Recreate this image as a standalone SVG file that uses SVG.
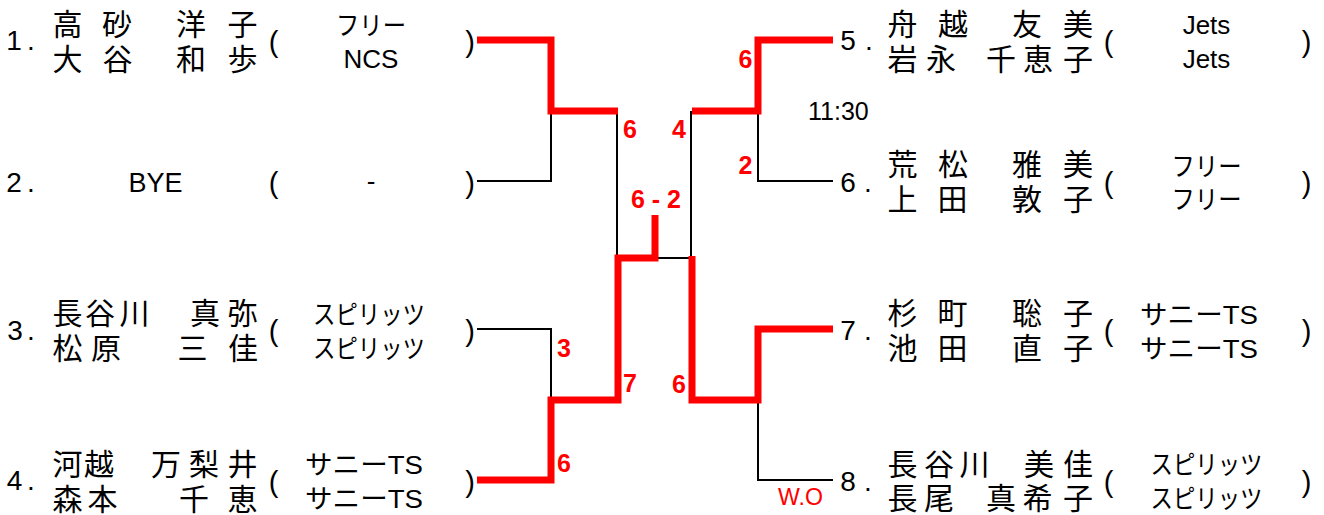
<svg xmlns="http://www.w3.org/2000/svg" width="1324" height="515" viewBox="0 0 1324 515">
<style>
.num{font-family:"Liberation Sans",Arial,sans-serif;font-size:28px;fill:#000;text-anchor:middle}
.nm{font-family:"Noto Sans CJK JP","Noto Sans CJK SC",sans-serif;font-size:30px;fill:#000;text-anchor:middle}
.tm{font-family:"Liberation Sans","Noto Sans CJK JP",sans-serif;font-size:26px;fill:#000;text-anchor:middle}
.par{font-family:"Liberation Sans",Arial,sans-serif;font-size:29px;fill:#000;text-anchor:middle}
.sc{font-family:"Liberation Sans",Arial,sans-serif;font-size:25px;font-weight:bold;fill:#ff0000;text-anchor:middle}
.blk{fill:none;stroke:#000;stroke-width:2}
.red{fill:none;stroke:#ff0000;stroke-width:7}
</style>
<rect width="1324" height="515" fill="#fff"/>

<g id="connectors">
  <path class="blk" d="M477 181 H551 V111"/>
  <path class="blk" d="M477 329 H551 V400"/>
  <path class="blk" d="M617 111 V257"/>
  <path class="blk" d="M655 258 H691 V111"/>
  <path class="blk" d="M833 181 H758 V111"/>
  <path class="blk" d="M833 480 H758 V400"/>
  <path class="red" d="M477 40 H551 V111 H618"/>
  <path class="red" d="M477 480 H551 V400 H618 V258 H655 V215"/>
  <path class="red" d="M692 256 V400 H758 V329 H833"/>
  <path class="red" d="M692 111 H758 V40 H833"/>
</g>

<g id="p1">
  <text class="num" x="14 31" y="50">1.</text>
  <text class="nm" x="67.5 117 154 191 242.5" y="35">高砂　洋子</text>
  <text class="nm" x="67.5 117.5 154 191 242.5" y="70">大谷　和歩</text>
  <text class="par" x="273.5" y="52">(</text>
  <text class="tm" x="371" y="35" textLength="70" lengthAdjust="spacingAndGlyphs">フリー</text>
  <text class="tm" x="371" y="68">NCS</text>
  <text class="par" x="470" y="52">)</text>
</g>

<g id="p2">
  <text class="num" x="14 31" y="192">2.</text>
  <text class="tm" x="155.5" y="192" style="font-size:27px">BYE</text>
  <text class="par" x="273.5" y="193">(</text>
  <text class="tm" x="371" y="190">-</text>
  <text class="par" x="470" y="193">)</text>
</g>

<g id="p3">
  <text class="num" x="15 31" y="340">3.</text>
  <text class="nm" x="67.5 100 134.5 170 205 242.5" y="324">長谷川　真弥</text>
  <text class="nm" x="67.5 106 150 192.5 243" y="359">松原　三佳</text>
  <text class="par" x="273.5" y="341">(</text>
  <text class="tm" x="369" y="324" textLength="112" lengthAdjust="spacingAndGlyphs">スピリッツ</text>
  <text class="tm" x="369" y="358" textLength="112" lengthAdjust="spacingAndGlyphs">スピリッツ</text>
  <text class="par" x="470" y="341">)</text>
</g>

<g id="p4">
  <text class="num" x="14.5 31" y="490">4.</text>
  <text class="nm" x="67.5 99 132 166 204 242.5" y="475">河越　万梨井</text>
  <text class="nm" x="67.5 102.5 148 194 242.5" y="510">森本　千恵</text>
  <text class="par" x="273.5" y="492">(</text>
  <text class="tm" x="364" y="474" textLength="118" lengthAdjust="spacingAndGlyphs">サニーTS</text>
  <text class="tm" x="364" y="508" textLength="118" lengthAdjust="spacingAndGlyphs">サニーTS</text>
  <text class="par" x="470" y="492">)</text>
</g>

<g id="p5">
  <text class="num" x="848 869" y="50">5.</text>
  <text class="nm" x="902.5 953 990 1027 1078" y="35">舟越　友美</text>
  <text class="nm" x="902.5 941 970 1001 1038 1078" y="70">岩永　千恵子</text>
  <text class="par" x="1108.5" y="52">(</text>
  <text class="tm" x="1206.5" y="34">Jets</text>
  <text class="tm" x="1206.5" y="68">Jets</text>
  <text class="par" x="1306.5" y="52">)</text>
</g>

<g id="p6">
  <text class="num" x="848 868" y="192">6.</text>
  <text class="nm" x="902.5 953 990 1027 1078" y="175">荒松　雅美</text>
  <text class="nm" x="902.5 952.5 990 1027 1078" y="210">上田　敦子</text>
  <text class="par" x="1108.5" y="193">(</text>
  <text class="tm" x="1206.5" y="176" textLength="70" lengthAdjust="spacingAndGlyphs">フリー</text>
  <text class="tm" x="1206.5" y="209" textLength="70" lengthAdjust="spacingAndGlyphs">フリー</text>
  <text class="par" x="1306.5" y="193">)</text>
</g>

<g id="p7">
  <text class="num" x="848 868" y="340">7.</text>
  <text class="nm" x="902.5 952.5 990 1027 1078" y="324">杉町　聡子</text>
  <text class="nm" x="902.5 952.5 990 1027 1078" y="359">池田　直子</text>
  <text class="par" x="1108.5" y="341">(</text>
  <text class="tm" x="1199" y="324" textLength="118" lengthAdjust="spacingAndGlyphs">サニーTS</text>
  <text class="tm" x="1199" y="358" textLength="118" lengthAdjust="spacingAndGlyphs">サニーTS</text>
  <text class="par" x="1306.5" y="341">)</text>
</g>

<g id="p8">
  <text class="num" x="848 868" y="491">8.</text>
  <text class="nm" x="902.5 939 974.5 1007 1039 1078" y="475">長谷川　美佳</text>
  <text class="nm" x="902.5 939 970 1001 1037.5 1078" y="509">長尾　真希子</text>
  <text class="par" x="1108.5" y="492">(</text>
  <text class="tm" x="1206.5" y="474" textLength="112" lengthAdjust="spacingAndGlyphs">スピリッツ</text>
  <text class="tm" x="1206.5" y="508" textLength="112" lengthAdjust="spacingAndGlyphs">スピリッツ</text>
  <text class="par" x="1306.5" y="492">)</text>
</g>

<g id="scores">
  <text class="sc" x="630" y="138">6</text>
  <text class="sc" x="679" y="138">4</text>
  <text class="sc" x="656" y="208">6 - 2</text>
  <text class="sc" x="745.5" y="68">6</text>
  <text class="sc" x="745.5" y="174">2</text>
  <text class="sc" x="564" y="357">3</text>
  <text class="sc" x="630" y="392">7</text>
  <text class="sc" x="679" y="393">6</text>
  <text class="sc" x="564" y="472">6</text>
  <text class="sc" x="800.5" y="505" style="font-weight:normal;font-size:24px" textLength="45" lengthAdjust="spacingAndGlyphs">W.O</text>
  <text x="808" y="120" style="font-family:'Liberation Sans',Arial,sans-serif;font-size:25px;fill:#000">11:30</text>
</g>
</svg>
